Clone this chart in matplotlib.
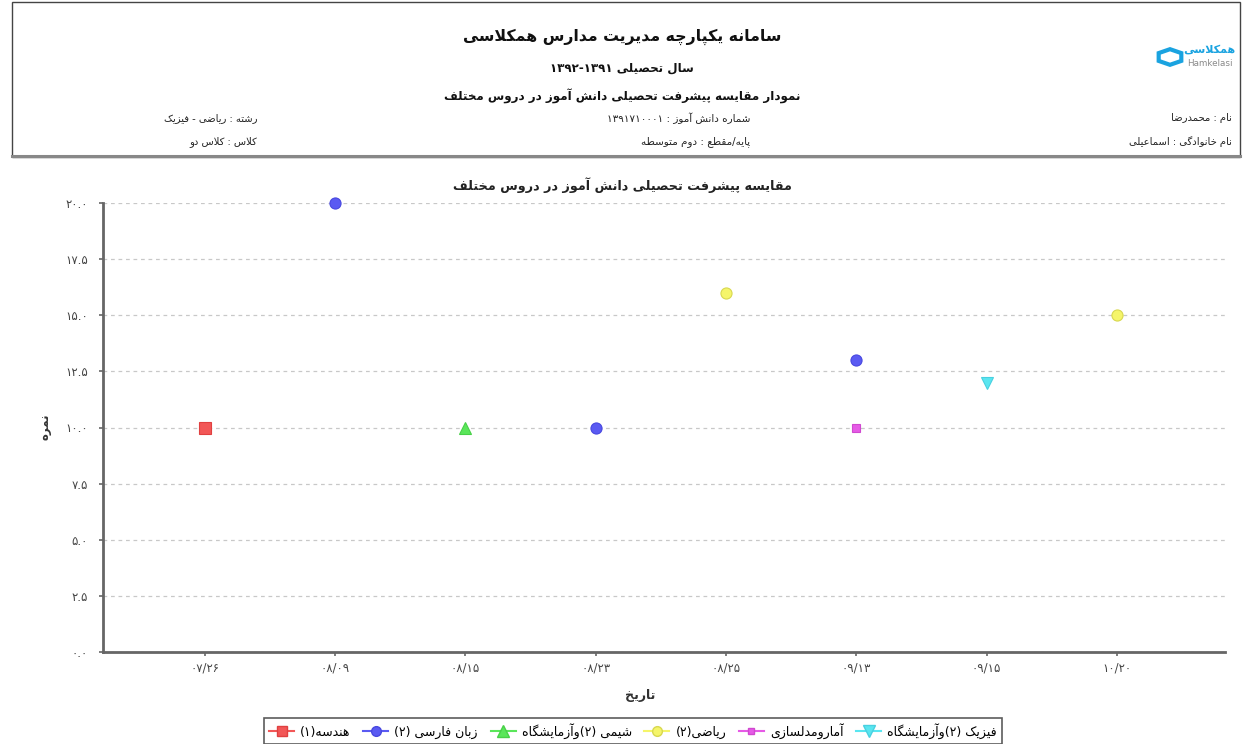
import re
import matplotlib
matplotlib.use('Agg')
import matplotlib.pyplot as plt
from matplotlib.lines import Line2D
from matplotlib.patches import Rectangle, RegularPolygon

plt.rcParams['font.family'] = ['DejaVu Sans']

# ---- data ----
dates = ['۰۷/۲۶', '۰۸/۰۹', '۰۸/۱۵', '۰۸/۲۳', '۰۸/۲۵', '۰۹/۱۳', '۰۹/۱۵', '۱۰/۲۰']

names = ['هندسه(۱)', 'زبان فارسی (۲)', 'شیمی (۲)وآزمایشگاه',
         'ریاضی(۲)', 'آمارومدلسازی', 'فیزیک (۲)وآزمایشگاه']
series_dates = [
    ['۰۷/۲۶'],
    ['۰۸/۰۹', '۰۸/۲۳', '۰۹/۱۳'],
    ['۰۸/۱۵'],
    ['۰۸/۲۵', '۱۰/۲۰'],
    ['۰۹/۱۳'],
    ['۰۹/۱۵'],
]
series_vals = [
    [10.0],
    [20.0, 10.0, 13.0],
    [10.0],
    [16.0, 15.0],
    [10.0],
    [12.0],
]
yticks = [0, 2.5, 5, 7.5, 10, 12.5, 15, 17.5, 20]

header_title = 'سامانه یکپارچه مدیریت مدارس همکلاسی'
header_year = 'سال تحصیلی ۱۳۹۱-۱۳۹۲'
header_sub = 'نمودار مقایسه پیشرفت تحصیلی دانش آموز در دروس مختلف'
info_right = ['نام : محمدرضا', 'نام خانوادگی : اسماعیلی']
info_mid = ['شماره دانش آموز : ۱۳۹۱۷۱۰۰۰۱', 'پایه/مقطع : دوم متوسطه']
info_left = ['رشته : ریاضی - فیزیک', 'کلاس : کلاس دو']
chart_title = 'مقایسه پیشرفت تحصیلی دانش آموز در دروس مختلف'
xlab = 'تاریخ'
ylab = 'نمره'

# ---- minimal persian shaping (matplotlib has no text shaping) ----
# isolated, final, initial, medial
FORMS = {
    'ا': ('\uFE8D', '\uFE8E', None, None),
    'آ': ('\uFE81', '\uFE82', None, None),
    'ب': ('\uFE8F', '\uFE90', '\uFE91', '\uFE92'),
    'پ': ('\uFB56', '\uFB57', '\uFB58', '\uFB59'),
    'ت': ('\uFE95', '\uFE96', '\uFE97', '\uFE98'),
    'ث': ('\uFE99', '\uFE9A', '\uFE9B', '\uFE9C'),
    'ج': ('\uFE9D', '\uFE9E', '\uFE9F', '\uFEA0'),
    'چ': ('\uFB7A', '\uFB7B', '\uFB7C', '\uFB7D'),
    'ح': ('\uFEA1', '\uFEA2', '\uFEA3', '\uFEA4'),
    'خ': ('\uFEA5', '\uFEA6', '\uFEA7', '\uFEA8'),
    'د': ('\uFEA9', '\uFEAA', None, None),
    'ذ': ('\uFEAB', '\uFEAC', None, None),
    'ر': ('\uFEAD', '\uFEAE', None, None),
    'ز': ('\uFEAF', '\uFEB0', None, None),
    'ژ': ('\uFB8A', '\uFB8B', None, None),
    'س': ('\uFEB1', '\uFEB2', '\uFEB3', '\uFEB4'),
    'ش': ('\uFEB5', '\uFEB6', '\uFEB7', '\uFEB8'),
    'ص': ('\uFEB9', '\uFEBA', '\uFEBB', '\uFEBC'),
    'ض': ('\uFEBD', '\uFEBE', '\uFEBF', '\uFEC0'),
    'ط': ('\uFEC1', '\uFEC2', '\uFEC3', '\uFEC4'),
    'ظ': ('\uFEC5', '\uFEC6', '\uFEC7', '\uFEC8'),
    'ع': ('\uFEC9', '\uFECA', '\uFECB', '\uFECC'),
    'غ': ('\uFECD', '\uFECE', '\uFECF', '\uFED0'),
    'ف': ('\uFED1', '\uFED2', '\uFED3', '\uFED4'),
    'ق': ('\uFED5', '\uFED6', '\uFED7', '\uFED8'),
    'ک': ('\uFB8E', '\uFB8F', '\uFB90', '\uFB91'),
    'گ': ('\uFB92', '\uFB93', '\uFB94', '\uFB95'),
    'ل': ('\uFEDD', '\uFEDE', '\uFEDF', '\uFEE0'),
    'م': ('\uFEE1', '\uFEE2', '\uFEE3', '\uFEE4'),
    'ن': ('\uFEE5', '\uFEE6', '\uFEE7', '\uFEE8'),
    'ه': ('\uFEE9', '\uFEEA', '\uFEEB', '\uFEEC'),
    'و': ('\uFEED', '\uFEEE', None, None),
    'ی': ('\uFBFC', '\uFBFD', '\uFBFE', '\uFBFF'),
    'لا': ('\uFEFB', '\uFEFC', None, None),
    'لآ': ('\uFEF5', '\uFEF6', None, None),
}


def shape(text):
    toks = []
    i = 0
    while i < len(text):
        c = text[i]
        if c == 'ل' and i + 1 < len(text) and text[i + 1] in 'اآ':
            toks.append(c + text[i + 1])
            i += 2
        else:
            toks.append(c)
            i += 1
    out = []
    for i, t in enumerate(toks):
        f = FORMS.get(t)
        if f is None:
            out.append(t)
            continue
        prev = toks[i - 1] if i > 0 else None
        nxt = toks[i + 1] if i + 1 < len(toks) else None
        jp = prev in FORMS and FORMS[prev][2] is not None
        jn = f[2] is not None and nxt in FORMS
        if jp and jn:
            out.append(f[3])
        elif jp:
            out.append(f[1])
        elif jn:
            out.append(f[2])
        else:
            out.append(f[0])
    return ''.join(out)


NUM = r'[0-9\u06F0-\u06F9]+(?:[./:][0-9\u06F0-\u06F9]+)*'
MIRROR = {'(': ')', ')': '('}


def fa(s):
    # right-to-left line -> visual order
    s = shape(s)
    toks = re.findall(NUM + r'|.', s)
    toks = [MIRROR.get(t, t) for t in toks[::-1]]
    return ''.join(toks)


def fa_num(v):
    return f'{v:.1f}'.translate(str.maketrans('0123456789', '۰۱۲۳۴۵۶۷۸۹'))


# ---- figure ----
fig = plt.figure(figsize=(12.44, 7.44), dpi=100)
W, H = 1244.0, 744.0

def fx(px):
    return px / W

def fy(py):
    return 1 - py / H

# header box
fig.patches.append(Rectangle((fx(12), fy(157)), fx(1240) - fx(12), fy(2) - fy(157),
                             transform=fig.transFigure, fill=False,
                             edgecolor='#444444', linewidth=1.0))
fig.add_artist(Line2D([fx(12), fx(1240)], [fy(156), fy(156)], transform=fig.transFigure,
                      color='#888888', linewidth=2.2))

fig.text(0.5, fy(37), fa(header_title), ha='center', va='center', fontsize=11.3, fontweight='bold', color='#111111')
fig.text(0.5, fy(68), fa(header_year), ha='center', va='center', fontsize=8.6, fontweight='bold', color='#111111')
fig.text(0.5, fy(96), fa(header_sub), ha='center', va='center', fontsize=8.6, fontweight='bold', color='#111111')

for i, yy in enumerate([118, 142]):
    fig.text(fx(1232), fy(yy), fa(info_right[i]), ha='right', va='center', fontsize=7.2, color='#222222')
    fig.text(fx(750), fy(yy), fa(info_mid[i]), ha='right', va='center', fontsize=7.5, color='#222222')
    fig.text(fx(257), fy(yy), fa(info_left[i]), ha='right', va='center', fontsize=7.2, color='#222222')

# logo
fig.patches.append(RegularPolygon((fx(1170), fy(57)), numVertices=6, radius=0.0105,
                                  orientation=0, transform=fig.transFigure,
                                  fill=False, edgecolor='#1aa3e0', linewidth=3))
fig.text(fx(1209), fy(50), fa('همکلاسی'), ha='center', va='center', fontsize=8, color='#1aa3e0', fontweight='bold')
fig.text(fx(1210), fy(63), 'Hamkelasi', ha='center', va='center', fontsize=6.3, color='#8a8a8a')

# chart
ax = fig.add_axes([fx(103), fy(652), fx(1225) - fx(103), fy(203) - fy(652)])
colors = ['#f25757', '#5a5af2', '#5ae65a', '#f5f56a', '#e65ae6', '#5ae6f0']
edges = ['#e04040', '#4848e0', '#48d048', '#d8d850', '#d048d0', '#48d0e0']
markers = ['s', 'o', '^', 'o', 's', 'v']
msizes = [8, 8, 9, 8, 6, 9]

for i in range(len(names)):
    xs = [dates.index(d) for d in series_dates[i]]
    ax.plot(xs, series_vals[i], linestyle='none', marker=markers[i], markersize=msizes[i],
            markerfacecolor=colors[i], markeredgecolor=edges[i], markeredgewidth=0.8,
            clip_on=False, zorder=3)

ax.set_xlim(-0.78, len(dates) - 1 + 0.83)
ax.set_ylim(0, 20)
ax.set_xticks(range(len(dates)))
ax.set_xticklabels(dates, fontsize=8.5, color='#444444')
ax.set_yticks(yticks)
ax.set_yticklabels([fa_num(v) for v in yticks], fontsize=8.5, color='#444444')
ax.yaxis.grid(True, linestyle=(0, (3, 3)), color='#c8c8c8', linewidth=0.9)
ax.set_axisbelow(True)
for s in ['top', 'right']:
    ax.spines[s].set_visible(False)
for s in ['left', 'bottom']:
    ax.spines[s].set_color('#666666')
    ax.spines[s].set_linewidth(2)
ax.tick_params(axis='y', length=3, width=1.2, color='#666666', pad=8)
ax.tick_params(axis='x', length=3, width=1.2, color='#666666', pad=4)

fig.text(0.5, fy(185), fa(chart_title), ha='center', va='center', fontsize=9.2, fontweight='bold', color='#222222')
fig.text(fx(640), fy(695), fa(xlab), ha='center', va='center', fontsize=9, color='#333333', fontweight='bold')
fig.text(fx(45), fy(427), fa(ylab), ha='center', va='center', fontsize=8.5, color='#333333',
         rotation=90, fontweight='bold')

handles = [Line2D([], [], color=colors[i], marker=markers[i], markersize=msizes[i] - 1,
                  markerfacecolor=colors[i], markeredgecolor=edges[i], linewidth=1.5)
           for i in range(len(names))]
leg = fig.legend(handles, [fa(n) for n in names], loc='center', ncol=len(names),
                 bbox_to_anchor=(fx(633), fy(731)), fontsize=9, frameon=True,
                 fancybox=False, edgecolor='#333333', handlelength=2.0,
                 handletextpad=0.5, columnspacing=1.0, borderpad=0.4)
leg.get_frame().set_linewidth(1.2)

fig.savefig('out.png', dpi=100)
